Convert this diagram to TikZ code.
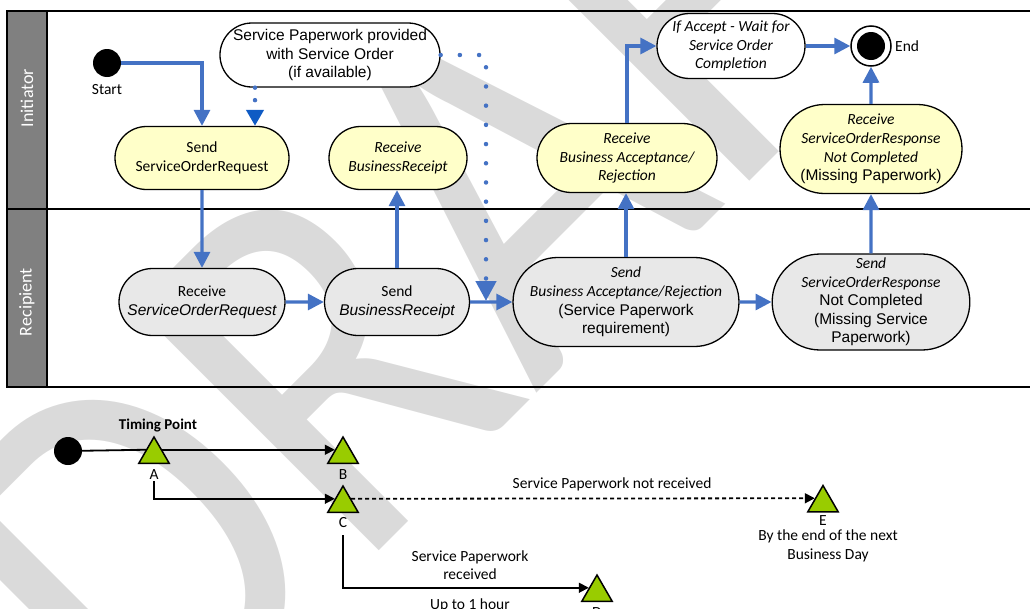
\documentclass[tikz,border=0pt]{standalone}
\usepackage{fontspec}
\setmainfont{Carlito}
\newfontfamily\arialf{Liberation Sans}
\usetikzlibrary{arrows.meta,shapes.misc,shapes.geometric}
\definecolor{flowblue}{HTML}{4472C4}
\definecolor{dotblue}{HTML}{0F5BC4}
\definecolor{lanegrey}{HTML}{808080}
\definecolor{initfill}{HTML}{FFFFC9}
\definecolor{recfill}{HTML}{E8E8E8}
\definecolor{tgreen}{HTML}{99CC00}
\definecolor{wmgrey}{HTML}{DADADA}
\newcommand{\fsz}{\fontsize{15.5}{18.6}\selectfont}
\begin{document}
\begin{tikzpicture}[x=1pt,y=-1pt,
  act/.style={rounded rectangle, draw=black, line width=1.3pt, align=center, inner sep=0pt, font=\fsz},
  initact/.style={act, fill=initfill},
  recact/.style={act, fill=recfill},
  whiteact/.style={act, fill=white},
  flow/.style={draw=flowblue, line width=3.2pt, -{Triangle[length=16pt,width=16pt]}},
  dotsa/.style={draw=flowblue, line width=4.5pt, line cap=round, dash pattern=on 0pt off 12.5pt, -{Triangle[length=16pt,width=17pt,fill=dotblue,color=dotblue]}},
  dotsb/.style={draw=flowblue, line width=4.5pt, line cap=round, dash pattern=on 0pt off 19.2pt, -{Triangle[length=20pt,width=20pt]}},
  lanebox/.style={draw=black, line width=1.5pt, fill=lanegrey},
  lanetext/.style={text=white, rotate=90, font=\fontsize{18}{18}\selectfont},
  poolline/.style={draw=black, line width=1.6pt},
  lbl/.style={font=\fsz, inner sep=1pt},
  tri/.style={regular polygon, regular polygon sides=3, minimum size=35pt, inner sep=0pt, draw=black, line width=1.5pt, fill=tgreen},
  tl/.style={draw=black, line width=1.8pt, -{Triangle[length=10pt,width=10pt]}},
  tdash/.style={tl, dash pattern=on 4pt off 3pt},
  wmtext/.style={text=wmgrey, inner sep=0pt, font=\fontsize{538}{538}\selectfont}
]
\useasboundingbox (0,0) rectangle (1030,608);
\clip (0,0) rectangle (1030,608);
% watermark
\node[wmtext, rotate=45, xscale=0.87, anchor=base west] (wmark) at (152,778) {DRAFT};

% pool
\draw[lanebox] (7,11) rectangle (47,209);
\draw[lanebox] (7,209) rectangle (47,387);
\node[lanetext] (initlbl) at (27,98) {Initiator};
\node[lanetext] (reclbl) at (27,302) {Recipient};
\draw[poolline] (7,11) -- (1031,11);
\draw[poolline] (7,209) -- (1031,209);
\draw[poolline] (7,387) -- (1031,387);

% initiator lane
\node[circle, fill=black, minimum size=28pt, inner sep=0pt] (start) at (107,63) {};
\node[lbl] (startlbl) at (107,90) {Start};
\node[initact, minimum width=174pt, minimum height=63pt] (sor) at (202,158) {Send\\ServiceOrderRequest};
\node[whiteact, minimum width=215pt, minimum height=64pt, font=\arialf\fsz] (note) at (330,55) {Service Paperwork provided\\with Service Order\\(if available)};
\node[initact, minimum width=138pt, minimum height=63pt, font=\fsz\itshape] (rbr) at (398,158) {Receive\\BusinessReceipt};
\node[initact, minimum width=180pt, minimum height=69pt, font=\fsz\itshape] (rbar) at (627,158) {Receive\\Business Acceptance/\\Rejection};
\node[whiteact, minimum width=148pt, minimum height=65pt, font=\fsz\itshape] (ifacc) at (731,46) {If Accept - Wait for\\Service Order\\Completion};
\node[circle, draw=black, line width=1.5pt, fill=white, minimum size=40pt, inner sep=0pt] (end) at (871,46) {};
\node[circle, fill=black, minimum size=28pt, inner sep=0pt] (endin) at (end) {};
\node[lbl, anchor=west] (endlbl) at (894,46) {End};
\node[initact, minimum width=182pt, minimum height=89pt] (rsorn) at (871,149) {\textit{Receive}\\\textit{ServiceOrderResponse}\\\textit{Not Completed}\\{\arialf (Missing Paperwork)}};

% recipient lane
\node[recact, minimum width=166pt, minimum height=67pt] (rsor) at (202,302) {Receive\\{\arialf\itshape ServiceOrderRequest}};
\node[recact, minimum width=145pt, minimum height=67pt] (sbr) at (397,302) {Send\\{\arialf\itshape BusinessReceipt}};
\node[recact, minimum width=216pt, minimum height=89pt] (sbar) at (626,302) {\textit{Send}\\\textit{Business Acceptance/Rejection}\\{\arialf (Service Paperwork}\\{\arialf requirement)}};
\node[recact, minimum width=189pt, minimum height=96pt] (ssorn) at (871,302) {\textit{Send}\\\textit{ServiceOrderResponse}\\{\arialf Not Completed}\\{\arialf (Missing Service}\\{\arialf Paperwork)}};

% connectors
\coordinate (dxa) at (255,0);
\coordinate (jn) at (486,301);
\draw[flow] (start.east) -| (sor.north);
\draw[dotsa] (note.south -| dxa) -- (sor.north -| dxa);
\draw[dotsb] (note.east) -| (jn);
\draw[flow] (sor) -- (rsor);
\draw[flow] (rsor) -- (sbr);
\draw[flow] (sbr.north) -- (sbr.north |- rbr.south);
\draw[flow] (sbr) -- (sbar);
\draw[flow] (sbar.north) -- (sbar.north |- rbar.south);
\draw[flow] (rbar.north) |- (ifacc.west);
\draw[flow] (ifacc.east) -- (ifacc.east -| end.west);
\draw[flow] (sbar) -- (ssorn);
\draw[flow] (ssorn) -- (rsorn);
\draw[flow] (rsorn) -- (end);

% timing diagram
\node[circle, fill=black, minimum size=28pt, inner sep=0pt] (tdot) at (68,451) {};
\node[tri] (ta) at (154,454.5) {};
\node[tri] (tb) at (343,454.5) {};
\node[tri] (tc) at (343,503.5) {};
\node[tri] (te) at (823,503) {};
\node[tri] (td) at (597,592.5) {};
\node[lbl, font=\fontsize{15}{18}\selectfont\bfseries] (tplbl) at (158,426) {Timing Point};
\node[lbl] (alab) at (154,475) {A};
\node[lbl] (blab) at (343,475) {B};
\node[lbl] (clab) at (343,523) {C};
\node[lbl] (elab) at (823,521) {E};
\node[lbl] (dlab) at (597,613) {D};
\node[lbl, align=center] (elbl) at (828,546) {By the end of the next\\Business Day};
\node[lbl] (nrlbl) at (612,484) {Service Paperwork not received};
\node[lbl, align=center, fill=white, inner xsep=20pt, inner ysep=3pt] (rlbl) at (470,565) {Service Paperwork\\received};
\node[lbl, fill=white] (uplbl) at (470,605) {Up to 1 hour};

\draw[draw=black, line width=1.8pt] (tdot) -- (ta.side 1);
\draw[tl] (ta.side 3) -- (tb.side 1);
\draw[tl] (alab.south) |- (tc.side 1);
\draw[tdash] (tc.side 3) -- (te.side 1);
\draw[tl, shorten <=6pt] (clab.south) |- (td.side 1);
\end{tikzpicture}
\end{document}
